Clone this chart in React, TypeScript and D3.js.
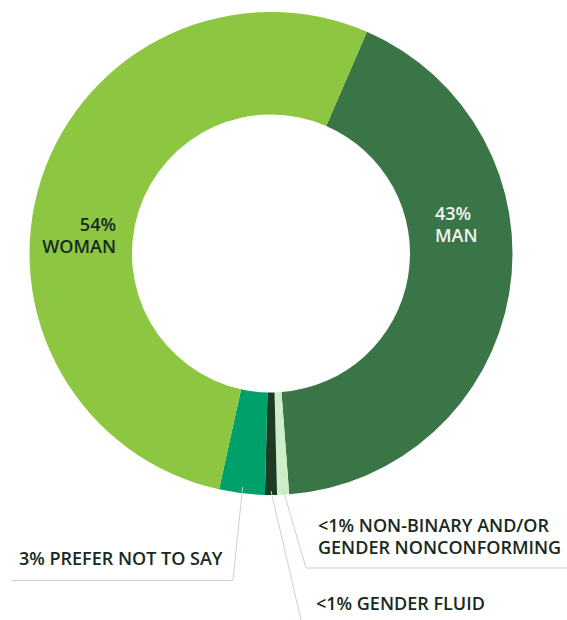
import React from "react";
import * as d3 from "d3";

const categories = ["MAN", "NON-BINARY AND/OR GENDER NONCONFORMING", "GENDER FLUID", "PREFER NOT TO SAY", "WOMAN"];
const values = [42.3, 0.8, 0.8, 3.05, 53.05];
const colors = ["#3a7548", "#cdeec6", "#1d3a23", "#00a06a", "#8dc641"];

const W = 567;
const H = 620;
const cx = 271;
const cy = 253.5;
const outerR = 241.5;
const innerR = 139;
const startDeg = 23.4;

export default function App() {
  const pie = d3
    .pie<number>()
    .sort(null)
    .value((d) => d)
    .startAngle((startDeg * Math.PI) / 180)
    .endAngle((startDeg * Math.PI) / 180 + 2 * Math.PI);
  const arcs = pie(values);
  const arc = d3.arc<d3.PieArcDatum<number>>().innerRadius(innerR).outerRadius(outerR);

  const pt = (a: number, r: number) => [cx + r * Math.sin(a), cy - r * Math.cos(a)];
  const mid = (i: number) => (arcs[i].startAngle + arcs[i].endAngle) / 2;

  const textColor = "#172a20";
  const lineColor = "#c3d8c6";
  const font = "'Open Sans', 'Noto Sans', sans-serif";
  const fs = 18;

  const p1 = pt(mid(1), outerR - 6);
  const p2 = pt(mid(2), outerR - 4);
  const p3 = pt(mid(3), outerR - 6);

  return (
    <svg width={W} height={H} style={{ position: "absolute", left: 0, top: 0 }} fontFamily={font}>
      <g transform={`translate(${cx},${cy})`}>
        {arcs.map((a, i) => (
          <path key={categories[i]} d={arc(a) || ""} fill={colors[i]} />
        ))}
      </g>
      <polyline points={`${p1[0]},${p1[1]} ${306},${568} ${W},${568}`} fill="none" stroke={lineColor} strokeWidth={1} />
      <polyline points={`${p2[0]},${p2[1]} ${301},${H}`} fill="none" stroke={lineColor} strokeWidth={1} />
      <polyline points={`${p3[0]},${p3[1]} ${233},${580.5} ${11},${580.5}`} fill="none" stroke={lineColor} strokeWidth={1} />

      <text fontSize={fs} fontWeight={600} fill={textColor} textAnchor="end">
        <tspan x={116} y={231}>54%</tspan>
        <tspan x={116} y={253}>WOMAN</tspan>
      </text>
      <text fontSize={fs} fontWeight={600} fill="#f2f4f2" textAnchor="start">
        <tspan x={435} y={220}>43%</tspan>
        <tspan x={435} y={242}>MAN</tspan>
      </text>

      <text fontSize={fs} fontWeight={600} fill={textColor}>
        <tspan x={318} y={532}>{"<1% NON-BINARY AND/OR"}</tspan>
        <tspan x={318} y={554}>GENDER NONCONFORMING</tspan>
      </text>
      <text fontSize={fs} fontWeight={600} fill={textColor} x={19} y={565}>
        3% PREFER NOT TO SAY
      </text>
      <text fontSize={fs} fontWeight={600} fill={textColor} x={316} y={610}>
        {"<1% GENDER FLUID"}
      </text>
    </svg>
  );
}
